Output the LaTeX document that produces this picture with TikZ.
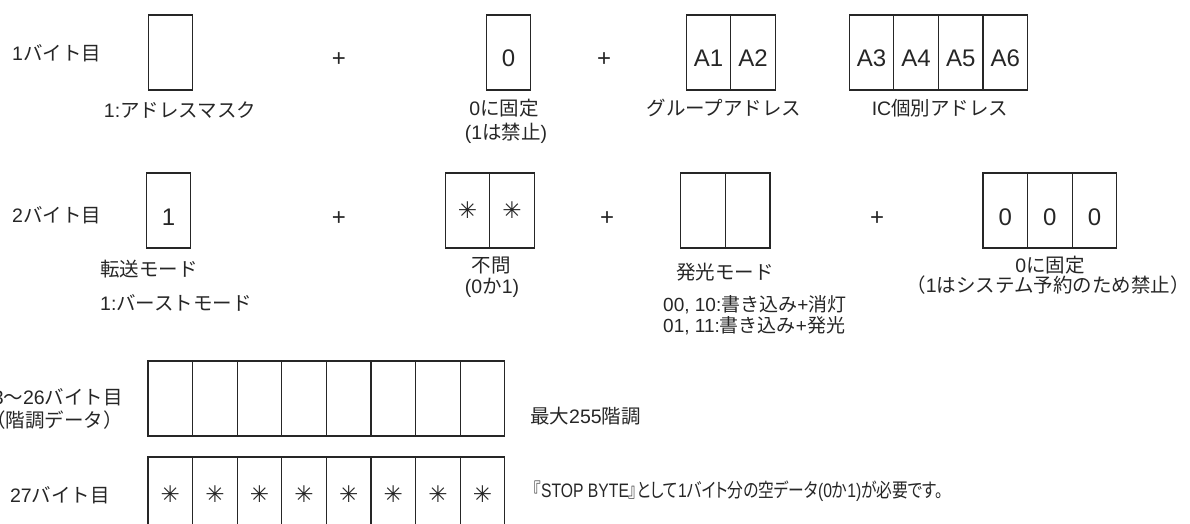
\documentclass[tikz,border=0pt]{standalone}
\usepackage{fontspec}
\setmainfont{Liberation Sans}
\newfontfamily\jp{Noto Sans CJK JP}
\newfontfamily\jpp[RawFeature=+palt]{Noto Sans CJK JP}
\newfontfamily\symf{DejaVu Sans}
\begin{document}
\begin{tikzpicture}[x=1pt,y=-1pt,
  cell/.style={draw=black!85, line width=1.2pt, minimum width=44.6pt, minimum height=75pt,
    inner sep=0pt, outer sep=0pt, font=\fontsize{24}{24}\selectfont, text=black!85},
  dcell/.style={cell, text height=29pt, text depth=0pt},
  scell/.style={cell, font=\symf\fontsize{23}{23}\selectfont},
  lbl/.style={inner sep=0pt, font=\fontsize{19.5}{21}\selectfont, text=black!85},
  plus/.style={inner sep=0pt, font=\fontsize{24}{24}\selectfont, text=black!85}]
\useasboundingbox (0,0) rectangle (1190,524);

% ---- row 1 ----
\node[lbl, anchor=west] (r1) at (12,53) {1{\jp バイト目}};
\node[cell] (m1) at (170.5,52.5) {};
\node[plus] (p11) at (339,59.5) {+};
\node[dcell] (z1) at (508.5,52.5) {0};
\node[plus] (p12) at (604,59.5) {+};
\node[dcell] (a1) at (708.5,52.5) {A1};
\node[dcell] (a2) at (753.1,52.5) {A2};
\node[dcell] (a3) at (871.5,52.5) {A3};
\node[dcell] (a4) at (916.1,52.5) {A4};
\node[dcell] (a5) at (960.7,52.5) {A5};
\node[dcell] (a6) at (1005.3,52.5) {A6};
\node[lbl] (l11) at (180,110) {1:{\jp アドレスマスク}};
\node[lbl] (l12) at (504,108) {0{\jp に固定}};
\node[lbl] (l13) at (506,133) {(1{\jp は禁止})};
\node[lbl] (l14) at (724,108) {\jp グループアドレス};
\node[lbl] (l15) at (940,108) {IC{\jp 個別アドレス}};

% ---- row 2 ----
\node[lbl, anchor=west] (r2) at (12,215) {2{\jp バイト目}};
\node[dcell] (t1) at (168.5,210.5) {1};
\node[plus] (p21) at (339,218.5) {+};
\node[scell] (x1) at (467.5,210.5) {✳};
\node[scell] (x2) at (512.1,210.5) {✳};
\node[plus] (p22) at (607,218.5) {+};
\node[cell] (e1) at (703,210.5) {};
\node[cell] (e2) at (747.6,210.5) {};
\node[plus] (p23) at (877,218.5) {+};
\node[dcell] (y1) at (1005.3,210.5) {0};
\node[dcell] (y2) at (1049.9,210.5) {0};
\node[dcell] (y3) at (1094.5,210.5) {0};
\node[lbl, anchor=west] (l21) at (100,269) {\jp 転送モード};
\node[lbl, anchor=west] (l22) at (100,303) {1:{\jp バーストモード}};
\node[lbl] (l23) at (491,266) {\jp 不問};
\node[lbl] (l24) at (492,288) {(0{\jp か}1)};
\node[lbl] (l25) at (725,272) {\jp 発光モード};
\node[lbl, anchor=west, font=\fontsize{19}{20}\selectfont] (l26) at (663,305) {00, 10:{\jp 書き込み}+{\jp 消灯}};
\node[lbl, anchor=west, font=\fontsize{19}{20}\selectfont] (l27) at (663,326) {01, 11:{\jp 書き込み}+{\jp 発光}};
\node[lbl] (l28) at (1050,265) {0{\jp に固定}};
\node[lbl] (l29) at (1048,285) {{\jp （}1{\jp はシステム予約のため禁止）}};

% ---- row 3 ----
\node[lbl, anchor=east] (r3a) at (123,397) {3{\jp ～}26{\jp バイト目}};
\node[lbl, anchor=east] (r3b) at (123,420) {\jp （階調データ）};
\foreach \i in {1,...,8} {
  \node[cell] (g\i) at ({170.3+(\i-1)*44.6},398.5) {};
}
\node[lbl, anchor=west] (l31) at (530,416) {{\jp 最大}255{\jp 階調}};

% ---- row 4 ----
\node[lbl, anchor=east] (r4) at (110,495) {27{\jp バイト目}};
\foreach \i in {1,...,8} {
  \node[scell] (s\i) at ({170.3+(\i-1)*44.6},494.5) {✳};
}
\node[lbl, anchor=west] (l41) at (533,491) {\resizebox{410pt}{\height}{{\jpp 『}STOP BYTE{\jpp 』として}1{\jpp バイト分の空データ}(0{\jpp か}1){\jpp が必要です。}}};
\end{tikzpicture}
\end{document}
